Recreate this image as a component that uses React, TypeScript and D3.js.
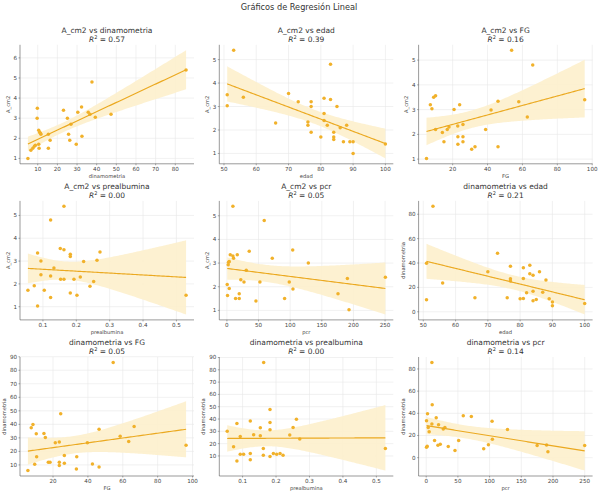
import React from 'react';
import * as d3 from 'd3';

// each panel: x values, y values
const dinA_x = [5, 6.5, 7.5, 8.3, 8.8, 9.8, 9.7, 10.5, 10.5, 10.7, 11, 11.4, 11.6, 15.4, 15.4, 16.3, 23.1, 25.1, 25.7, 26.3, 26.9, 29.6, 30.4, 32.3, 32.5, 35.7, 36.6, 37.6, 39.3, 47.3, 85.5];
const dinA_y = [1.0, 1.4, 1.5, 1.6, 1.65, 3.5, 3.0, 2.4, 1.7, 1.5, 2.3, 2.25, 2.2, 2.2, 1.5, 1.9, 3.4, 3.0, 2.2, 1.9, 2.7, 1.7, 3.3, 3.55, 2.1, 3.3, 3.2, 4.8, 3.05, 3.2, 5.4];

const edadA_x = [51, 51, 53, 56, 66, 70, 73, 76, 76, 77, 77, 77, 80, 81, 81, 81, 82, 83, 83, 84, 84, 84, 85, 86, 87, 88, 89, 90, 90, 100];
const edadA_y = [3.5, 3.03, 5.4, 3.4, 2.3, 3.55, 3.2, 2.34, 2.2, 3.2, 3.0, 1.9, 1.7, 3.35, 2.7, 2.4, 2.2, 3.3, 4.8, 1.9, 1.7, 1.6, 3.0, 2.1, 1.5, 2.2, 1.5, 1.5, 1.0, 1.4];

const fgA_x = [5, 7.2, 8.1, 9.1, 10.2, 10.2, 14.1, 15, 16.9, 17.9, 20.8, 22.9, 23, 23, 24, 25.9, 25.9, 25.9, 30.9, 32.8, 38.9, 42, 46, 46, 53.8, 57.9, 62.8, 65.9, 95.7];
const fgA_y = [1.03, 3.2, 3.04, 3.5, 3.56, 2.2, 2.08, 1.7, 2.2, 2.3, 3.0, 2.34, 1.9, 1.6, 3.2, 2.4, 1.9, 1.7, 1.4, 1.5, 2.2, 2.98, 3.34, 1.5, 5.4, 3.32, 2.7, 4.8, 3.4];

const preA_x = [0.055, 0.074, 0.084, 0.084, 0.094, 0.094, 0.104, 0.123, 0.123, 0.123, 0.133, 0.152, 0.153, 0.163, 0.163, 0.163, 0.182, 0.182, 0.182, 0.193, 0.202, 0.212, 0.222, 0.241, 0.252, 0.262, 0.271, 0.529];
const preA_y = [1.72, 1.92, 3.35, 1.03, 3.0, 2.4, 1.72, 4.8, 2.35, 1.4, 2.7, 3.55, 2.2, 5.4, 3.5, 2.2, 3.3, 3.2, 1.6, 2.2, 1.5, 2.3, 2.98, 1.9, 2.1, 3.04, 3.4, 1.5];

const pcrA_x = [0.5, 1, 2, 2.6, 3.7, 3.7, 5.3, 9.5, 9.5, 10.5, 13.7, 16.4, 19.5, 19.5, 22, 27, 30.6, 35.3, 45.9, 52.2, 59, 71.7, 91.2, 98.6, 104, 104.4, 128.7, 175.6, 190.4, 193, 250.5];
const pcrA_y = [2.1, 1.63, 2.93, 3.03, 3.07, 1.93, 3.35, 5.4, 3.3, 3.2, 1.5, 3.35, 1.7, 1.5, 2.3, 2.2, 2.7, 3.5, 1.4, 2.2, 4.8, 3.2, 1.5, 2.2, 3.55, 1.9, 3.0, 1.7, 2.35, 1.03, 2.4];

const edadD_x = [51, 51, 53, 56, 66, 70, 73, 76, 77, 77, 77, 80, 81, 81, 81, 82, 83, 83, 84, 84, 84, 85, 86, 87, 88, 89, 90, 90, 100];
const edadD_y = [9.8, 39.9, 86.5, 23.6, 11.5, 32.8, 48, 11.5, 37.3, 27, 25.3, 10.7, 36.2, 27.2, 10.9, 15.7, 38.2, 31.2, 30, 16.8, 9, 10.1, 32.8, 16, 26.1, 10.7, 8.1, 5, 6.7];

const fgD_x = [5.6, 7.5, 8.5, 9.5, 10.4, 10.6, 14.8, 15.6, 17.3, 18.3, 21.3, 23.6, 23.6, 23.6, 24.4, 26.5, 26.5, 33.4, 33.6, 39.7, 42.6, 46.4, 46.4, 54.5, 58.5, 63.4, 66.5, 96.3];
const fgD_y = [5.8, 37.4, 39.8, 10.5, 33, 16, 33.2, 30.2, 12, 12, 26.3, 27, 12, 9.5, 47.8, 17, 11.3, 7, 16, 26.3, 10.7, 36.3, 8.5, 85.8, 31.2, 27.3, 38.4, 24.5];

const preD_x = [0.054, 0.073, 0.083, 0.083, 0.093, 0.093, 0.103, 0.123, 0.123, 0.123, 0.133, 0.153, 0.153, 0.163, 0.162, 0.162, 0.182, 0.182, 0.182, 0.182, 0.192, 0.202, 0.212, 0.221, 0.241, 0.251, 0.261, 0.271, 0.527];
const preD_y = [30, 17.5, 36.3, 5.8, 25.8, 11.3, 11.3, 38.3, 12, 7, 27.3, 33, 26.5, 86, 16, 10.5, 47.8, 37.2, 31.2, 9.5, 12, 11.3, 12, 10.5, 27, 33.2, 39.8, 23.8, 16];

const pcrD_x = [0.5, 0.5, 1.6, 2.1, 3.2, 4.7, 9, 9, 9.5, 13.2, 15.8, 18.5, 19.5, 22.2, 26.9, 29.5, 34.8, 45.4, 51.2, 58.5, 71.2, 90.7, 98.1, 103.9, 104.4, 128.2, 175, 189.9, 192, 250];
const pcrD_y = [33.2, 9.5, 10.3, 39.6, 27.3, 23.4, 85.9, 30.4, 47.7, 15.6, 36, 11.2, 29.8, 12, 25.9, 27.3, 10, 6.4, 15.6, 37.9, 37.1, 8.1, 11.7, 32.9, 16.7, 25.4, 10.9, 11.4, 5.3, 10.9];

const r2Labels = ['0.57', '0.39', '0.16', '0.00', '0.05', '0.21', '0.05', '0.00', '0.14'];

const ticksDin = [10, 20, 30, 40, 50, 60, 70, 80, 90];
const ticksEdad = [50, 60, 70, 80, 90, 100];
const ticksFG = [20, 40, 60, 80, 100];
const ticksPre = [0.1, 0.2, 0.3, 0.4, 0.5];
const ticksPcr = [0, 50, 100, 150, 200, 250];
const ticksA6 = [1, 2, 3, 4, 5, 6];
const ticksA5 = [1, 2, 3, 4, 5];
const ticksD80 = [0, 20, 40, 60, 80];
const ticksD90 = [10, 20, 30, 40, 50, 60, 70, 80, 90];

const panels = [
  { y: 'A_cm2', x: 'dinamometria', xs: dinA_x, ys: dinA_y, xt: ticksDin, yt: ticksA6 },
  { y: 'A_cm2', x: 'edad', xs: edadA_x, ys: edadA_y, xt: ticksEdad, yt: ticksA5 },
  { y: 'A_cm2', x: 'FG', xs: fgA_x, ys: fgA_y, xt: ticksFG, yt: ticksA5 },
  { y: 'A_cm2', x: 'prealbumina', xs: preA_x, ys: preA_y, xt: ticksPre, yt: ticksA5 },
  { y: 'A_cm2', x: 'pcr', xs: pcrA_x, ys: pcrA_y, xt: ticksPcr, yt: ticksA5 },
  { y: 'dinamometria', x: 'edad', xs: edadD_x, ys: edadD_y, xt: ticksEdad, yt: ticksD80 },
  { y: 'dinamometria', x: 'FG', xs: fgD_x, ys: fgD_y, xt: ticksFG, yt: ticksD90 },
  { y: 'dinamometria', x: 'prealbumina', xs: preD_x, ys: preD_y, xt: ticksPre, yt: ticksD90 },
  { y: 'dinamometria', x: 'pcr', xs: pcrD_x, ys: pcrD_y, xt: ticksPcr, yt: ticksD80 },
];

const W = 600, H = 494;
const left0 = 20, colStep = 199.3, plotW = 174;
const top0 = 44.8, rowStep = 156.1, plotH = 119;
const FONT = 'DejaVu Sans, sans-serif';
const POINT = '#f1b12a', LINE = '#eba920', BAND = '#fdefcc';

// OLS fit + 95% CI of the mean, like regplot draws
function fit(xs: number[], ys: number[]) {
  const n = xs.length;
  const mx = d3.mean(xs)!, my = d3.mean(ys)!;
  let sxx = 0, sxy = 0;
  xs.forEach((x, i) => { sxx += (x - mx) ** 2; sxy += (x - mx) * (ys[i] - my); });
  const b = sxy / sxx, a = my - b * mx;
  let sse = 0;
  xs.forEach((x, i) => { sse += (ys[i] - a - b * x) ** 2; });
  const s = Math.sqrt(sse / (n - 2));
  const t = 2.045;
  const [x0, x1] = d3.extent(xs) as [number, number];
  const grid = d3.range(0, 101).map(i => x0 + (x1 - x0) * i / 100);
  return grid.map(x => {
    const yh = a + b * x;
    const h = t * s * Math.sqrt(1 / n + (x - mx) ** 2 / sxx);
    return { x, yh, lo: yh - h, hi: yh + h };
  });
}

const Panel = ({ p, i }: { p: typeof panels[0]; i: number }) => {
  const col = i % 3, row = Math.floor(i / 3);
  const L = left0 + col * colStep, T = top0 + row * rowStep;
  const band = fit(p.xs, p.ys);
  const [xmin, xmax] = d3.extent(p.xs) as [number, number];
  const xm = (xmax - xmin) * 0.05;
  const ylo = Math.min(d3.min(p.ys)!, d3.min(band, d => d.lo)!);
  const yhi = Math.max(d3.max(p.ys)!, d3.max(band, d => d.hi)!);
  const ym = (yhi - ylo) * 0.05;
  const x = d3.scaleLinear().domain([xmin - xm, xmax + xm]).range([L, L + plotW]);
  const y = d3.scaleLinear().domain([ylo - ym, yhi + ym]).range([T + plotH, T]);
  const area = d3.area<typeof band[0]>().x(d => x(d.x)).y0(d => y(d.lo)).y1(d => y(d.hi));
  const line = d3.line<typeof band[0]>().x(d => x(d.x)).y(d => y(d.yh));
  const xt = p.xt.filter(v => x(v) >= L - 0.5 && x(v) <= L + plotW + 0.5);
  const yt = p.yt.filter(v => y(v) >= T - 0.5 && y(v) <= T + plotH + 0.5);
  const cx = L + plotW / 2;
  const maxChars = d3.max(yt, v => String(v).length)!;
  const yLabX = L - 3 - maxChars * 3.56 - 3.8;
  return (
    <g>
      {xt.map(v => <line key={'gx' + v} x1={x(v)} x2={x(v)} y1={T} y2={T + plotH} stroke="#e8e8e8" strokeWidth={0.6} />)}
      {yt.map(v => <line key={'gy' + v} x1={L} x2={L + plotW} y1={y(v)} y2={y(v)} stroke="#e8e8e8" strokeWidth={0.6} />)}
      <path d={area(band)!} fill={BAND} opacity={0.9} />
      {p.xs.map((v, k) => <circle key={k} cx={x(v)} cy={y(p.ys[k])} r={1.75} fill={POINT} />)}
      <path d={line(band)!} fill="none" stroke={LINE} strokeWidth={1.15} />
      <line x1={L} x2={L} y1={T} y2={T + plotH} stroke="#555" strokeWidth={0.6} />
      <line x1={L} x2={L + plotW} y1={T + plotH} y2={T + plotH} stroke="#555" strokeWidth={0.6} />
      {xt.map(v => (
        <g key={'tx' + v}>
          <line x1={x(v)} x2={x(v)} y1={T + plotH} y2={T + plotH + 1.5} stroke="#555" strokeWidth={0.5} />
          <text x={x(v)} y={T + plotH + 7.2} fontSize={5.6} textAnchor="middle" fill="#444">{String(v)}</text>
        </g>
      ))}
      {yt.map(v => (
        <g key={'ty' + v}>
          <line x1={L - 1.5} x2={L} y1={y(v)} y2={y(v)} stroke="#555" strokeWidth={0.5} />
          <text x={L - 3} y={y(v) + 2} fontSize={5.6} textAnchor="end" fill="#444">{String(v)}</text>
        </g>
      ))}
      <text x={cx} y={T + plotH + 13.8} fontSize={5.2} textAnchor="middle" fill="#444">{p.x}</text>
      <text transform={`translate(${yLabX},${T + plotH / 2}) rotate(-90)`} fontSize={5.2} textAnchor="middle" fill="#444">{p.y}</text>
      <text x={cx} y={T - 12} fontSize={7.5} textAnchor="middle" fill="#333">{`${p.y} vs ${p.x}`}</text>
      <text x={cx} y={T - 2.6} fontSize={7.5} textAnchor="middle" fill="#333">
        <tspan fontStyle="italic">R</tspan>
        <tspan fontSize={5} dy={-3}>2</tspan>
        <tspan dy={3}>{` = ${r2Labels[i]}`}</tspan>
      </text>
    </g>
  );
};

export default function App() {
  return (
    <svg width={W} height={H} style={{ position: 'absolute', left: 0, top: 0, background: '#fff' }} fontFamily={FONT}>
      <rect width={W} height={H} fill="#fff" />
      <text x={299} y={10} fontSize={8.2} textAnchor="middle" fill="#333">Gráficos de Regresión Lineal</text>
      {panels.map((p, i) => <Panel key={i} p={p} i={i} />)}
    </svg>
  );
}
